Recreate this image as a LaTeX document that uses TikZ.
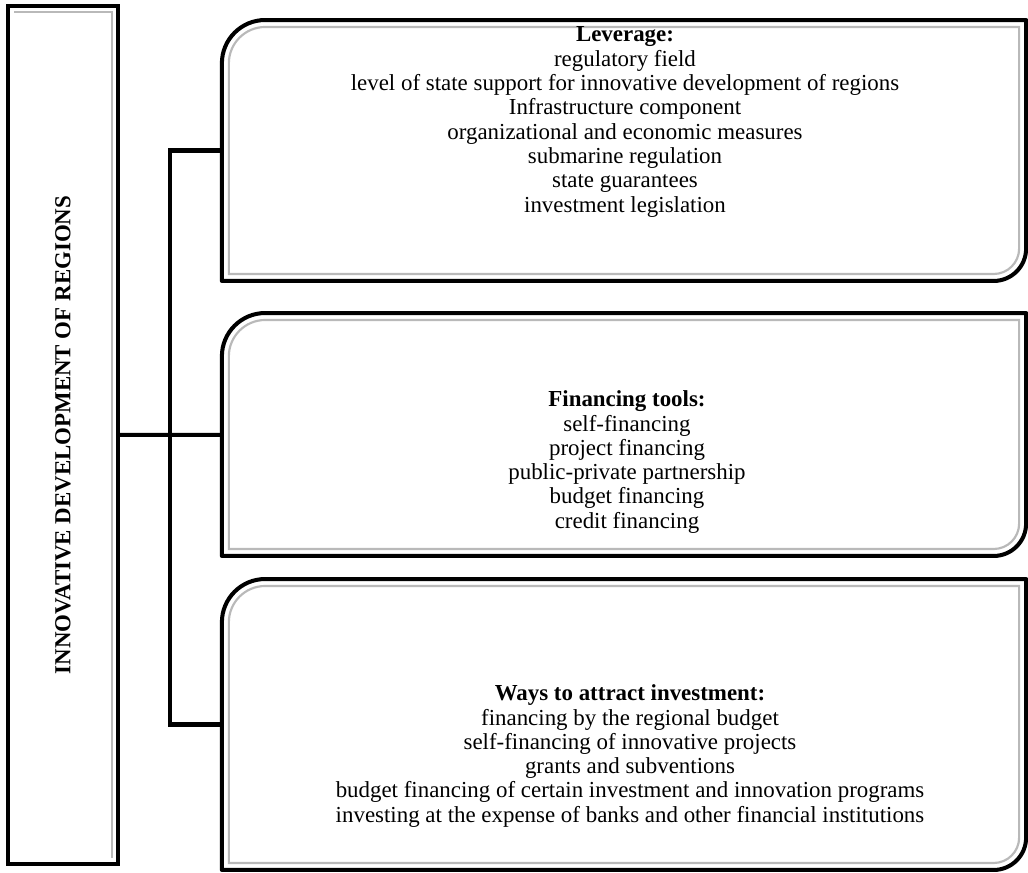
\documentclass[tikz,border=0pt]{standalone}
\usepackage{fontspec}
\setmainfont{Liberation Serif}
\usepackage{graphicx}
\usetikzlibrary{positioning}
\usetikzlibrary{calc}

\tikzstyle{titlebox}=[rectangle,draw,line width=2.6pt,outer sep=0pt,inner sep=0pt,minimum width=2.497cm,minimum height=19.477cm,font=\fontsize{14.8}{15.7}\selectfont\bfseries]
\tikzstyle{leafbox}=[rectangle,outer sep=0pt,inner sep=0pt,minimum width=18.26cm]
\tikzstyle{leaftext}=[align=center,font=\fontsize{14.8}{15.7}\selectfont]
\tikzstyle{frame}=[line width=2.6pt,line join=round]
\tikzstyle{bevel}=[gray!55,line width=1.4pt]
\tikzstyle{link}=[line width=2.6pt]

\begin{document}
\begin{tikzpicture}[x=0.0227cm,y=0.0227cm]
\useasboundingbox (0,0) rectangle (1028,872);

%Title
\node[titlebox] (title) at (63,437) {\rotatebox{90}{INNOVATIVE DEVELOPMENT OF REGIONS}};
\draw[bevel] ($(title.north west)+(4pt,-4pt)$) -- ($(title.north east)+(-4pt,-4pt)$) -- ($(title.south east)+(-4pt,4pt)$);

%Boxes
\node[leafbox,minimum height=5.925cm] (lev) at (624,721.5) {};
\node[leafbox,minimum height=5.516cm] (fin) at (624,437.5) {};
\node[leafbox,minimum height=6.606cm] (way) at (624,147.5) {};

\foreach \name in {lev,fin,way}{
  \draw[frame] let \p1=(\name.south west), \p2=(\name.north east) in
    (\x1,\y1) -- (\x1,\y2-28pt) arc[start angle=180,end angle=90,radius=28pt]
    -- (\x2,\y2) -- (\x2,\y1+21pt) arc[start angle=0,end angle=-90,radius=21pt] -- cycle;
  \draw[bevel] let \p1=(\name.south west), \p2=(\name.north east) in
    (\x1+4.5pt,\y1+4.5pt) -- (\x1+4.5pt,\y2-28pt) arc[start angle=180,end angle=90,radius=23.5pt]
    -- (\x2-4.5pt,\y2-4.5pt) -- (\x2-4.5pt,\y1+21pt) arc[start angle=0,end angle=-90,radius=16.5pt] -- cycle;
}

%Texts
\node[leaftext] (levtext) at (625,750) {\textbf{Leverage:}\\regulatory field\\level of state support for innovative development of regions\\Infrastructure component\\organizational and economic measures\\submarine regulation\\state guarantees\\investment legislation};
\node[leaftext] (fintext) at (627,410) {\textbf{Financing tools:}\\self-financing\\project financing\\public-private partnership\\budget financing\\credit financing};
\node[leaftext] (waytext) at (630,116) {\textbf{Ways to attract investment:}\\financing by the regional budget\\self-financing of innovative projects\\grants and subventions\\budget financing of certain investment and innovation programs\\investing at the expense of banks and other financial institutions};

%Links
\coordinate (bus) at (170,437);
\draw[link] (title) -- (fin);
\draw[link] (lev.west) -| (bus) |- (way.west);

\end{tikzpicture}
\end{document}
